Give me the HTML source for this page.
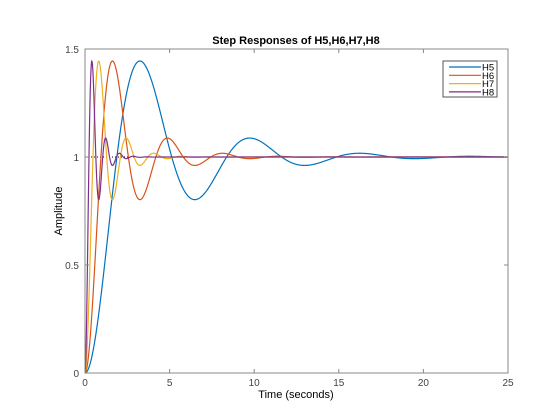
<!DOCTYPE html>
<html><head><meta charset="utf-8"><style>
body{margin:0;background:#fff;}
svg{display:block;font-family:"Liberation Sans",sans-serif;}
</style></head><body>
<svg id="chart" width="560" height="420" viewBox="0 0 560 420">
<rect x="0" y="0" width="560" height="420" fill="#fff"/>
<rect x="85" y="49" width="423" height="324" fill="#fff"/>
<g id="marks"></g>
<g id="axes"></g>
<text x="296" y="44" text-anchor="middle" font-size="11" font-weight="bold" fill="#000">Step Responses of H5,H6,H7,H8</text>
<text x="296" y="398" text-anchor="middle" font-size="11" fill="#000">Time (seconds)</text>
<text x="62" y="211" text-anchor="middle" font-size="11" fill="#000" transform="rotate(-90 62 211)">Amplitude</text>
<g id="legend"></g>
</svg>
<script>
const seriesNames = ["H5","H6","H7","H8"];
const naturalFreqs = [1, 2, 4, 8];
const dampingRatios = [0.25, 0.25, 0.25, 0.25];
const finalValues = [1, 1, 1, 1];
const xTicks = [0, 5, 10, 15, 20, 25];
const yTicks = [0, 0.5, 1, 1.5];
const colors = ["#0072BD","#D95319","#EDB120","#7E2F8E"];

const L=85,R=508,T=49,B=373, xMax=25, yMin=0, yMax=1.5;
const sx=t=>L+(t/xMax)*(R-L);
const sy=v=>B-(v-yMin)/(yMax-yMin)*(B-T);
const NS="http://www.w3.org/2000/svg";
function mk(tag,attrs,parent){const e=document.createElementNS(NS,tag);for(const k in attrs)e.setAttribute(k,attrs[k]);parent.appendChild(e);return e;}
function step(t,wn,z,k){const wd=wn*Math.sqrt(1-z*z);return k*(1-Math.exp(-z*wn*t)*(Math.cos(wd*t)+z/Math.sqrt(1-z*z)*Math.sin(wd*t)));}

const marks=document.getElementById('marks');
const ref=mk('line',{x1:sx(0),y1:sy(1),x2:sx(3),y2:sy(1),stroke:"#000","stroke-width":1,"stroke-dasharray":"1,2"},marks);


for(let i=0;i<seriesNames.length;i++){
  let d="";const n=1500;
  for(let j=0;j<=n;j++){const t=xMax*j/n;const v=step(t,naturalFreqs[i],dampingRatios[i],finalValues[i]);d+=(j?"L":"M")+sx(t).toFixed(2)+","+sy(v).toFixed(2);}
  const p=mk('path',{d:d,fill:"none",stroke:colors[i],"stroke-width":1.2},marks);
  
  
}
const ax=document.getElementById('axes');
const box=mk('rect',{x:L,y:T,width:R-L,height:B-T,fill:"none",stroke:"#888","stroke-width":1},ax);


xTicks.forEach(v=>{
  const x=sx(v);
  mk('line',{x1:x,y1:B,x2:x,y2:B-4,stroke:"#888"},ax);
  mk('line',{x1:x,y1:T,x2:x,y2:T+4,stroke:"#888"},ax);
  const t=mk('text',{x:x,y:B+13,"text-anchor":"middle","font-size":10,fill:"#444"},ax);t.textContent=v;
  
  
});
yTicks.forEach(v=>{
  const y=sy(v);
  mk('line',{x1:L,y1:y,x2:L+4,y2:y,stroke:"#888"},ax);
  mk('line',{x1:R,y1:y,x2:R-4,y2:y,stroke:"#888"},ax);
  const t=mk('text',{x:L-6,y:y+4,"text-anchor":"end","font-size":10,fill:"#444"},ax);t.textContent=v;
  
  
});
const lg=document.getElementById('legend');


mk('rect',{x:443,y:61,width:54,height:36,fill:"#fff",stroke:"#555","stroke-width":1},lg);
seriesNames.forEach((s,i)=>{
  const y=67+i*8.3;
  const g=mk('g',{},lg);
  
  
  mk('line',{x1:449,y1:y,x2:481,y2:y,stroke:colors[i],"stroke-width":1.2},g);
  const t=mk('text',{x:482,y:y+3.5,"font-size":9.5,fill:"#000"},g);t.textContent=s;
});
</script>
</body></html>
